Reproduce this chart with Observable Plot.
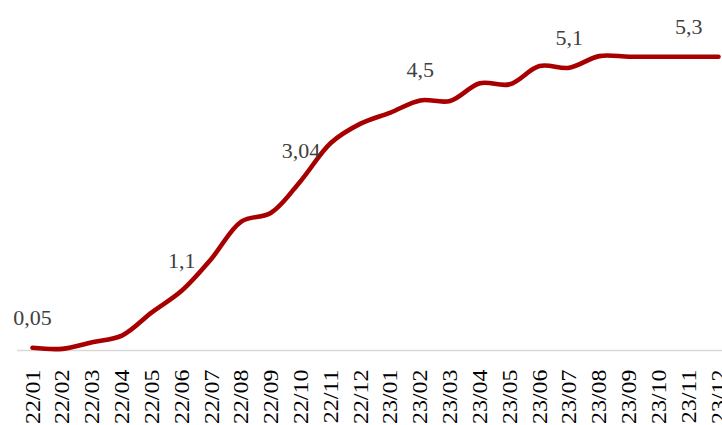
<!DOCTYPE html>
<html>
<head>
<meta charset="utf-8">
<script src="https://cdn.jsdelivr.net/npm/d3@7"></script>
<script src="https://cdn.jsdelivr.net/npm/@observablehq/plot@0.6"></script>
<style>
  html, body { margin: 0; padding: 0; background: #fff; overflow: hidden; }
  svg text { font-family: "Liberation Serif", "Times New Roman", Times, serif !important; }
</style>
</head>
<body>
<div id="chart"></div>
<script>
const months = ["22/01","22/02","22/03","22/04","22/05","22/06","22/07","22/08","22/09","22/10","22/11","22/12",
                "23/01","23/02","23/03","23/04","23/05","23/06","23/07","23/08","23/09","23/10","23/11","23/12"];
const rates = [0.05, 0.03, 0.15, 0.27, 0.69, 1.08, 1.66, 2.33, 2.49, 3.07, 3.75, 4.10,
               4.30, 4.52, 4.51, 4.83, 4.81, 5.14, 5.11, 5.32, 5.31, 5.31, 5.31, 5.31];
const labelMonths = ["22/01","22/06","22/10","23/02","23/07","23/11"];
const labelTexts = ["0,05","1,1","3,04","4,5","5,1","5,3"];

const data = months.map((m, i) => ({month: m, rate: rates[i]}));
const labels = labelMonths.map((m, i) => ({month: m, rate: rates[months.indexOf(m)], text: labelTexts[i]}));

const chart = Plot.plot({
  width: 722,
  height: 425,
  marginLeft: 32,
  marginRight: 4,
  marginTop: 18,
  marginBottom: 75,
  style: {fontFamily: "'Liberation Serif', 'Times New Roman', serif", background: "#fff", overflow: "hidden"},
  x: {type: "point", domain: months, padding: 0, round: false},
  y: {domain: [0, 6], axis: null},
  marks: [
    Plot.ruleY([0], {stroke: "#d9d9d9", strokeWidth: 1.5, insetLeft: -15, insetRight: -4}),
    Plot.axisX({tickSize: 0, tickRotate: -90, tickPadding: 19, fontSize: 22, fill: "#000", label: null}),
    Plot.line(data, {x: "month", y: "rate", stroke: "#a80000", strokeWidth: 4.6, curve: "catmull-rom",
                     strokeLinecap: "round", strokeLinejoin: "round"}),
    Plot.text(labels, {x: "month", y: "rate", text: "text", dy: -30, fontSize: 22, fill: "#404040"})
  ]
});
// stretch tick labels slightly along their length, as in the reference
d3.select(chart).selectAll('g[aria-label="x-axis tick label"] text').each(function() {
  const t = this.getAttribute("transform") || "";
  this.setAttribute("transform", t + " scale(1.09,1)");
});
document.getElementById("chart").appendChild(chart);
</script>
</body>
</html>
